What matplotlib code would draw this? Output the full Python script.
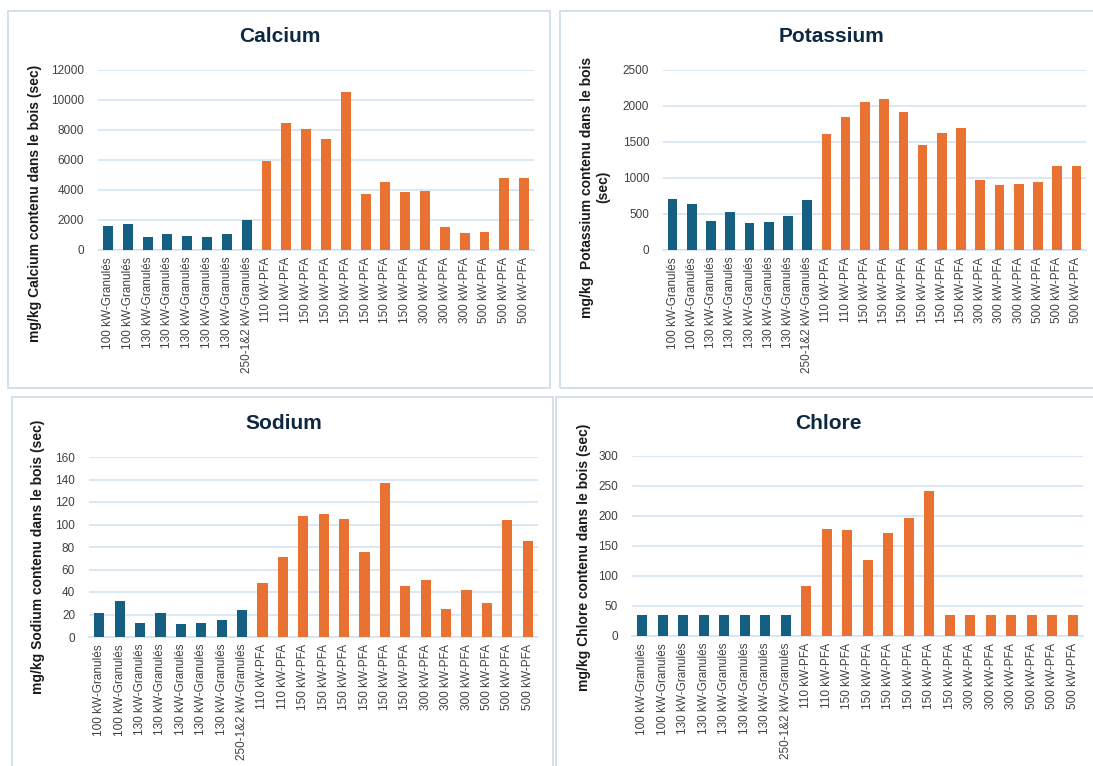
import matplotlib
matplotlib.use("Agg")
import matplotlib.pyplot as plt
from matplotlib.patches import Rectangle

categories = (["100 kW-Granulés"] * 2 + ["130 kW-Granulés"] * 5 + ["250-1&2 kW-Granulés"]
              + ["110 kW-PFA"] * 2 + ["150 kW-PFA"] * 6 + ["300 kW-PFA"] * 3 + ["500 kW-PFA"] * 3)
n_granules = 8

calcium = [1600, 1750, 900, 1100, 950, 850, 1050, 2000,
           5900, 8450, 8050, 7400, 10500, 3700, 4550, 3850, 3950, 1550, 1150, 1200, 4800, 4800]
potassium = [710, 640, 400, 530, 380, 390, 475, 700,
             1610, 1850, 2060, 2100, 1920, 1460, 1620, 1700, 970, 900, 920, 940, 1170, 1160]
sodium = [21.5, 32, 12.5, 21, 11.5, 12.5, 15, 24,
          48, 71, 108, 109, 105, 76, 137, 45, 51, 25, 42, 30, 104, 85]
chlore = [35, 35, 35, 35, 35, 35, 35, 35,
          83, 179, 177, 127, 172, 196, 242, 35, 35, 35, 35, 35, 35, 35]

titles = ["Calcium", "Potassium", "Sodium", "Chlore"]
ylabels = ["mg/kg Calcium contenu dans le bois (sec)",
           "mg/kg  Potassium contenu dans le bois\n(sec)",
           "mg/kg Sodium contenu dans le bois (sec)",
           "mg/kg Chlore contenu dans le bois (sec)"]
ymax = [12000, 2500, 160, 300]
ystep = [2000, 500, 20, 50]

W, H = 1093, 766
BLUE = "#156082"
ORANGE = "#E97132"
GRID = "#D5E3F3"
BORDER = "#C9DAEE"
TITLE_C = "#0E2841"
TICK_C = "#404040"

plt.rcParams["font.family"] = ["Liberation Sans", "DejaVu Sans"]

fig = plt.figure(figsize=(W / 100, H / 100), dpi=100)
fig.patch.set_facecolor("white")

# panel borders (x0, y0, x1, y1) in pixels from top-left
panels = [(8, 11, 550, 388), (560, 11, 1100, 388), (12, 397, 553, 775), (556, 397, 1100, 775)]
for (x0, y0, x1, y1) in panels:
    fig.patches.append(Rectangle((x0 / W, 1 - y1 / H), (x1 - x0) / W, (y1 - y0) / H,
                                 transform=fig.transFigure, fill=False,
                                 edgecolor=BORDER, linewidth=1.2))

# axes areas (x0, ytop, x1, ybottom) in pixels
axes_px = [(98, 70, 534, 250), (663, 70, 1086, 250), (89, 457, 538, 637), (632, 456, 1083, 636)]
title_pos = [(280, 37), (831, 37), (284, 423), (828, 423)]
ylabel_pos = [(35, 203), (595, 187), (38, 557), (584, 557)]
datasets = [calcium, potassium, sodium, chlore]

colors = [BLUE] * n_granules + [ORANGE] * (len(categories) - n_granules)

for i in range(4):
    x0, yt, x1, yb = axes_px[i]
    ax = fig.add_axes([x0 / W, 1 - yb / H, (x1 - x0) / W, (yb - yt) / H])
    xs = list(range(len(categories)))
    ax.bar(xs, datasets[i], width=0.5, color=colors, zorder=3)
    ax.set_xlim(-0.5, len(categories) - 0.5)
    ax.set_ylim(0, ymax[i])
    ax.set_yticks(range(0, ymax[i] + 1, ystep[i]))
    ax.set_xticks(xs)
    ax.set_xticklabels(categories, rotation=90, fontsize=8.5, color=TICK_C)
    ax.tick_params(axis="y", labelsize=8.5, labelcolor=TICK_C, length=0, pad=10)
    ax.tick_params(axis="x", length=0, pad=5)
    ax.grid(axis="y", color=GRID, linewidth=1.2, zorder=0)
    for s in ["top", "right", "left"]:
        ax.spines[s].set_visible(False)
    ax.spines["bottom"].set_color(GRID)
    ax.spines["bottom"].set_linewidth(1.2)
    ax.set_facecolor("none")
    tx, ty = title_pos[i]
    fig.text(tx / W, 1 - ty / H, titles[i], ha="center", va="center",
             fontsize=15, fontweight="bold", color=TITLE_C)
    lx, ly = ylabel_pos[i]
    fig.text(lx / W, 1 - ly / H, ylabels[i], ha="center", va="center", rotation=90,
             fontsize=10, fontweight="bold", color="#1a1a1a", multialignment="center")

fig.savefig("out.png", dpi=100, facecolor="white")
